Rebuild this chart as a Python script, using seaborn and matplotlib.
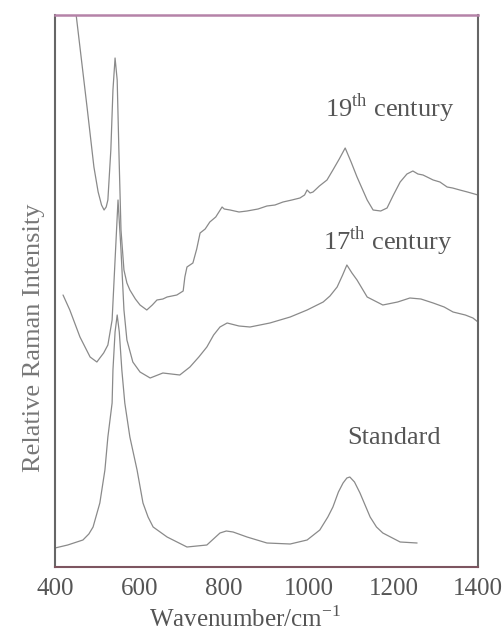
import numpy as np
import pandas as pd
import matplotlib
matplotlib.use('Agg')
import matplotlib.pyplot as plt
import seaborn as sns

# Raman spectra (wavenumber in cm^-1, relative intensity)
wn_19 = [438, 450, 476, 492, 502, 510, 516, 521, 525, 532, 537, 542, 547, 551, 556, 563,
         570, 577, 590, 601, 617, 630, 641, 655, 665, 688, 703, 707, 712, 726, 735, 743,
         755, 766, 780, 795, 800, 814, 835, 854, 880, 901, 920, 939, 960, 979, 990, 996,
         1003, 1010, 1025, 1043, 1057, 1072, 1086, 1100, 1114, 1138, 1152, 1170, 1185,
         1200, 1216, 1232, 1246, 1258, 1270, 1294, 1310, 1327, 1340, 1357, 1375, 1400]
int_19 = [594, 552, 459, 400, 375, 362, 357, 360, 367, 417, 477, 509, 487, 417, 337, 297,
          284, 277, 268, 262, 257, 262, 267, 268, 270, 272, 276, 290, 300, 304, 318, 334,
          338, 345, 350, 360, 358, 357, 355, 356, 358, 361, 362, 365, 367, 369, 372, 377,
          374, 375, 381, 387, 397, 408, 419, 405, 390, 367, 357, 356, 359, 372, 385, 393,
          396, 393, 392, 387, 385, 380, 379, 377, 375, 372]

wn_17 = [419, 435, 459, 483, 499, 506, 515, 525, 535, 542, 549, 556, 563, 570, 584, 601,
         625, 655, 695, 719, 740, 759, 775, 790, 807, 835, 861, 908, 956, 996, 1034, 1050,
         1067, 1080, 1090, 1102, 1114, 1138, 1175, 1210, 1239, 1265, 1294, 1320, 1341, 1370,
         1388, 1400]
int_17 = [272, 257, 230, 210, 205, 209, 214, 222, 247, 307, 367, 317, 257, 227, 205, 195,
          189, 194, 192, 200, 210, 220, 232, 240, 244, 241, 240, 244, 250, 257, 265, 271,
          280, 292, 302, 294, 287, 270, 262, 265, 269, 268, 264, 260, 255, 252, 249, 245]

wn_std = [400, 430, 466, 480, 490, 506, 518, 525, 535, 537, 542, 547, 552, 558, 565, 577,
          594, 608, 620, 632, 665, 712, 759, 790, 805, 821, 854, 901, 956, 996, 1026, 1045,
          1057, 1070, 1081, 1090, 1097, 1108, 1121, 1135, 1145, 1160, 1175, 1216, 1256]
int_std = [19, 22, 27, 33, 40, 64, 97, 130, 164, 197, 235, 252, 235, 197, 164, 130,
           97, 64, 50, 40, 30, 20, 22, 34, 36, 35, 30, 24, 23, 27, 37, 50,
           60, 75, 84, 89, 90, 85, 74, 60, 50, 40, 34, 25, 24]

labels = ['19$^{\\rm th}$ century', '17$^{\\rm th}$ century', 'Standard']
label_pos = [(1192, 459), (1187, 326), (1201, 129)]

df = pd.concat([
    pd.DataFrame({'wn': wn_19, 'I': int_19, 'sample': '19th'}),
    pd.DataFrame({'wn': wn_17, 'I': int_17, 'sample': '17th'}),
    pd.DataFrame({'wn': wn_std, 'I': int_std, 'sample': 'std'}),
])

sns.set_style('white')
plt.rcParams['font.family'] = ['Liberation Serif', 'DejaVu Serif']
plt.rcParams['mathtext.fontset'] = 'custom'
plt.rcParams['mathtext.rm'] = 'Liberation Serif'

fig = plt.figure(figsize=(5.03, 6.36), dpi=100)
ax = fig.add_axes([55 / 503, (636 - 567) / 636, 423 / 503, 552 / 636])

sns.lineplot(data=df, x='wn', y='I', units='sample', estimator=None, sort=False,
             color='#8a8a8a', linewidth=0.9, ax=ax, legend=False)

for txt, (x, y) in zip(labels, label_pos):
    ax.text(x, y, txt, ha='center', va='center', fontsize=19, color='#555555')

ax.set_xlim(400, 1400)
ax.set_ylim(0, 552)
ax.set_xticks([400, 600, 800, 1000, 1200, 1400])
ax.set_yticks([])
ax.tick_params(axis='x', direction='in', length=3, labelsize=18, colors='#555555', pad=8)
ax.set_xlabel('Wavenumber/cm$^{-1}$', fontsize=18, color='#555555')
ax.set_ylabel('Relative Raman Intensity', fontsize=19, color='#777777')
ax.xaxis.set_label_coords(0.45, -0.071)
ax.yaxis.set_label_coords(-0.024, 0.415)

for side in ['left', 'right']:
    ax.spines[side].set_color('#666666')
    ax.spines[side].set_linewidth(1.5)
ax.spines['top'].set_color('#b583a8')
ax.spines['top'].set_linewidth(1.8)
ax.spines['bottom'].set_color('#7d5560')
ax.spines['bottom'].set_linewidth(1.5)

fig.savefig('out.png', dpi=100)
